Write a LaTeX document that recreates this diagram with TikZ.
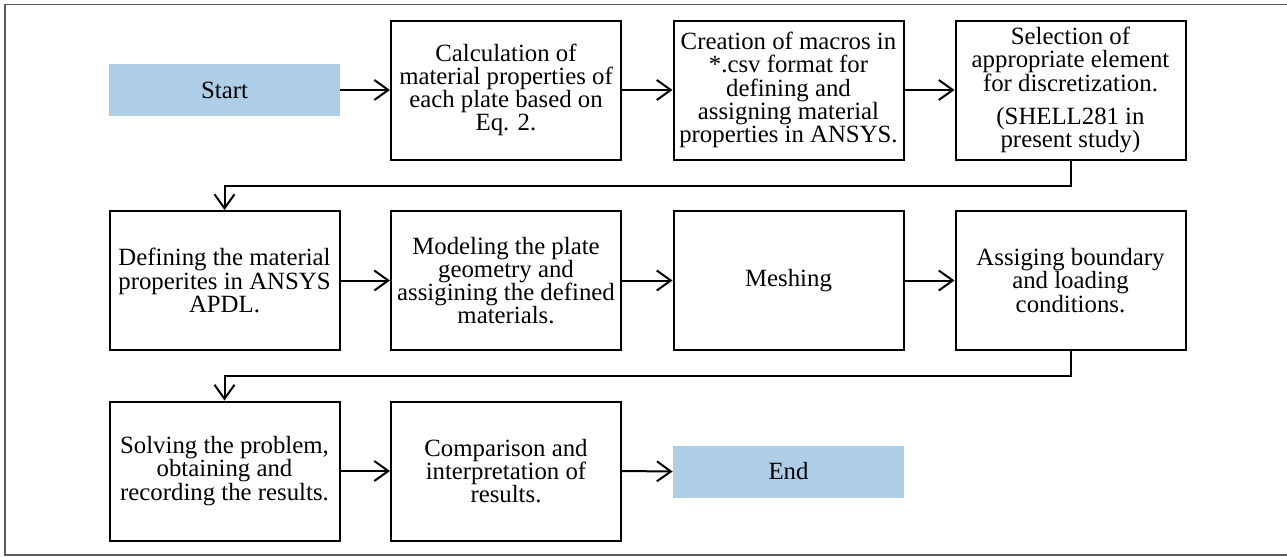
\documentclass[tikz,border=0pt]{standalone}
\usepackage{fontspec}
\setmainfont{Liberation Serif}
\usetikzlibrary{arrows.meta}
\definecolor{flowblue}{RGB}{174,205,230}
\definecolor{framegray}{RGB}{90,90,90}

\begin{document}
\begin{tikzpicture}[x=0.5pt, y=-0.5pt,
  stepbox/.style={draw=black, line width=1pt, fill=white,
    minimum width=115pt, minimum height=69.5pt, inner sep=2pt, align=center,
    font=\fontsize{12.4}{11.6}\selectfont},
  termbox/.style={fill=flowblue, minimum width=115.5pt, minimum height=26pt,
    inner sep=0pt, font=\fontsize{12.4}{11.6}\selectfont},
  flow/.style={-{Straight Barb[length=7pt,width=10pt]}, line width=1pt}]

\useasboundingbox (0,0) rectangle (1287,557);

% Outer frame (right side cut off)
\draw[framegray, line width=0.75pt] (1290,4.5) -| (5,555) -- (1290,555);

% First row
\node[termbox] (start) at (224.5,90) {Start};

\node[stepbox] (a1) at (506,90) {Calculation of\\material properties of\\each plate based on\\Eq. 2.};

\node[stepbox] (a2) at (788.5,90) {Creation of macros in\\*.csv format for\\defining and\\assigning material\\properties in ANSYS.};

\node[stepbox] (a3) at (1070.5,90) {Selection of\\appropriate element\\for discretization.\\[5pt](SHELL281 in\\present study)};

\draw[flow] (start.east) -- (a1.west);
\draw[flow] (a1.east) -- (a2.west);
\draw[flow] (a2.east) -- (a3.west);

% Second row
\node[stepbox] (b1) at (224.5,280.5) {Defining the material\\properites in ANSYS\\APDL.};

\node[stepbox] (b2) at (506,280.5) {Modeling the plate\\geometry and\\assigining the defined\\materials.};

\node[stepbox] (b3) at (788.5,280.5) {Meshing};

\node[stepbox] (b4) at (1070.5,280.5) {Assiging boundary\\and loading\\conditions.};

\draw[flow] (a3.south) -- ++(0,-12.5pt) -| (b1.north);
\draw[flow] (b1.east) -- (b2.west);
\draw[flow] (b2.east) -- (b3.west);
\draw[flow] (b3.east) -- (b4.west);

% Third row
\node[stepbox] (c1) at (224.5,471) {Solving the problem,\\obtaining and\\recording the results.};

\node[stepbox] (c2) at (506,471) {Comparison and\\interpretation of\\results.};

\node[termbox] (finish) at (788.5,471.5) {End};

\draw[flow] (b4.south) -- ++(0,-12.5pt) -| (c1.north);
\draw[flow] (c1.east) -- (c2.west);
\draw[flow] (c2.east) -- (finish.west);

\end{tikzpicture}
\end{document}
